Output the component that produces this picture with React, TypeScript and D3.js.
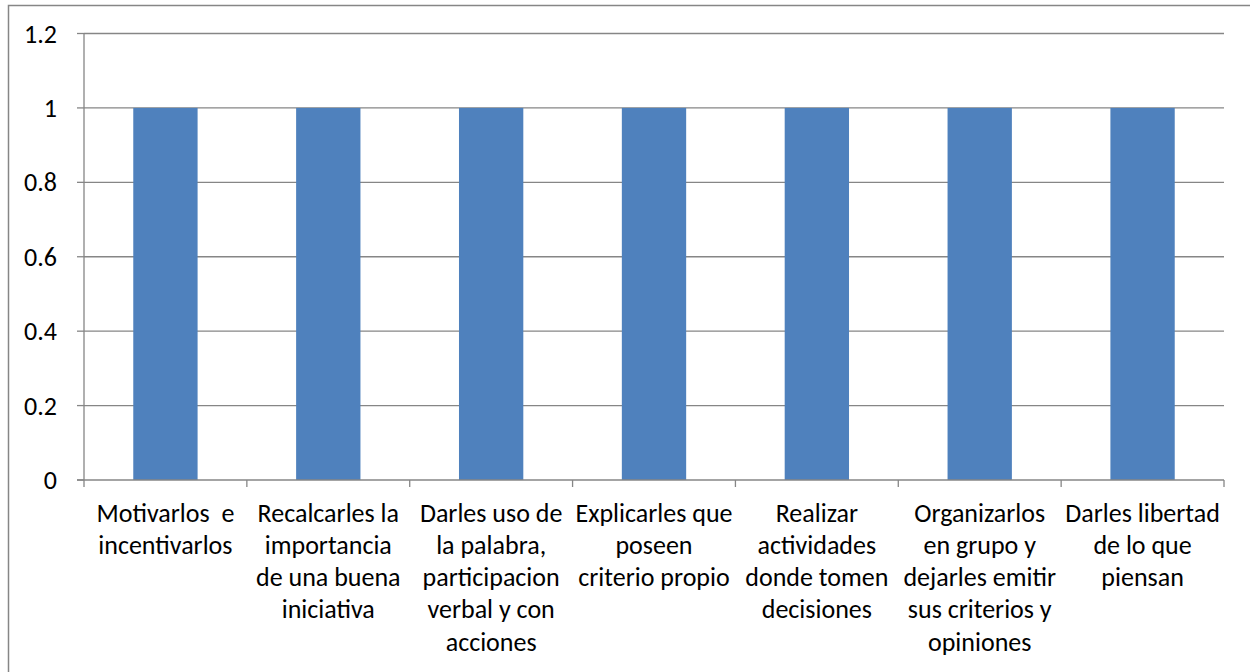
import React from "react";
import * as d3 from "d3";

const categories: string[][] = [
  ["Motivarlos  e", "incentivarlos"],
  ["Recalcarles la", "importancia", "de una buena", "iniciativa"],
  ["Darles uso de", "la palabra,", "participacion", "verbal y con", "acciones"],
  ["Explicarles que", "poseen", "criterio propio"],
  ["Realizar", "actividades", "donde tomen", "decisiones"],
  ["Organizarlos", "en grupo y", "dejarles emitir", "sus criterios y", "opiniones"],
  ["Darles libertad", "de lo que", "piensan"],
];
const values: number[] = [1, 1, 1, 1, 1, 1, 1];
const yTicks: number[] = [0, 0.2, 0.4, 0.6, 0.8, 1, 1.2];

const W = 1250;
const H = 672;
const left = 84;
const right = 1224;
const top = 33.5;
const bottom = 480;
const FONT = "Carlito, Lato, 'Open Sans', sans-serif";
const FS = 26;

export default function App() {
  React.useEffect(() => {
    document.body.style.margin = "0";
  }, []);
  const keys = categories.map((_, i) => String(i));
  const x = d3.scaleBand<string>().domain(keys).range([left, right]).paddingInner(0).paddingOuter(0);
  const y = d3.scaleLinear().domain([0, 1.2]).range([bottom, top]);
  const bw = x.bandwidth();
  const barW = bw * 0.395;
  const gray = "#868686";

  return (
    <svg width={W} height={H} style={{ display: "block", background: "#fff" }}>
      <rect x={8.5} y={5.5} width={W + 10} height={H + 10} fill="#fff" stroke={gray} strokeWidth={1.5} />
      {yTicks.map((t) => (
        <g key={t}>
          {t > 0 && (
            <line x1={left} x2={right} y1={y(t)} y2={y(t)} stroke={gray} strokeWidth={1.3} />
          )}
          <line x1={left - 7} x2={left} y1={y(t)} y2={y(t)} stroke={gray} strokeWidth={1.3} />
          <text
            x={57}
            y={y(t)}
            dy="0.35em"
            textAnchor="end"
            fontFamily={FONT}
            fontSize={FS}
            fill="#000"
          >
            {d3.format("~g")(t)}
          </text>
        </g>
      ))}
      {values.map((v, i) => (
        <rect
          key={i}
          x={(x(keys[i]) as number) + bw / 2 - barW / 2}
          y={y(v)}
          width={barW}
          height={y(0) - y(v)}
          fill="#4F81BD"
        />
      ))}
      <line x1={left} x2={left} y1={top} y2={bottom} stroke={gray} strokeWidth={1.3} />
      <line x1={left - 7} x2={right} y1={bottom} y2={bottom} stroke={gray} strokeWidth={1.3} />
      {keys.concat(["end"]).map((k, i) => {
        const xx = i < keys.length ? (x(k) as number) : right;
        return <line key={"t" + i} x1={xx} x2={xx} y1={bottom} y2={bottom + 7} stroke={gray} strokeWidth={1.3} />;
      })}
      {categories.map((lines, i) => (
        <text
          key={"c" + i}
          x={(x(keys[i]) as number) + bw / 2}
          y={521.5}
          textAnchor="middle"
          fontFamily={FONT}
          fontSize={FS}
          fill="#000"
          style={{ whiteSpace: "pre" }}
        >
          {lines.map((l, j) => (
            <tspan key={j} x={(x(keys[i]) as number) + bw / 2} y={521.5 + j * 32.3}>
              {l}
            </tspan>
          ))}
        </text>
      ))}
    </svg>
  );
}
